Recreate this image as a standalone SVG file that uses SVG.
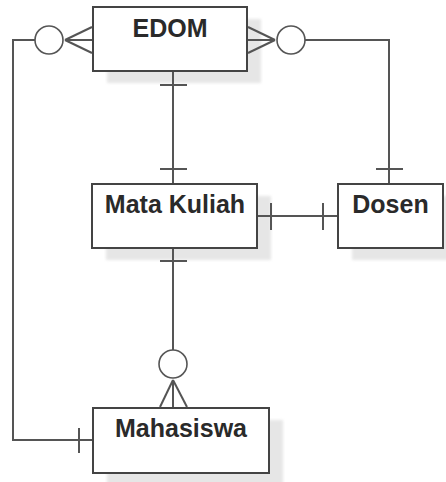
<svg xmlns="http://www.w3.org/2000/svg" width="446" height="482" viewBox="0 0 446 482">
<style>
.box{fill:#fff;stroke:#444;stroke-width:2}
.sh{fill:#e6e6e6;filter:url(#blur)}
.lbl{font-family:"Liberation Sans",Arial,sans-serif;font-weight:bold;font-size:25px;fill:#2a2a2a;text-anchor:middle}
.ln{fill:none;stroke:#555;stroke-width:2}
.circ{fill:#fff;stroke:#555;stroke-width:1.6}
</style>
<defs>
<filter id="blur" x="-10%" y="-10%" width="120%" height="120%"><feGaussianBlur stdDeviation="1.5"/></filter>
</defs>
<rect width="446" height="482" fill="#fff"/>
<g id="edom">
<rect class="sh" x="107" y="19" width="154" height="64"/>
<rect class="box" x="93" y="7" width="154" height="64"/>
<text class="lbl" x="170" y="37">EDOM</text>
</g>
<g id="mata-kuliah">
<rect class="sh" x="106" y="196" width="165" height="64"/>
<rect class="box" x="92" y="184" width="165" height="64"/>
<text class="lbl" x="175" y="213">Mata Kuliah</text>
</g>
<g id="dosen">
<rect class="sh" x="352" y="196" width="105" height="64"/>
<rect class="box" x="338" y="184" width="105" height="64"/>
<text class="lbl" x="390.5" y="213">Dosen</text>
</g>
<g id="mahasiswa">
<rect class="sh" x="107" y="420" width="176" height="65"/>
<rect class="box" x="93" y="408" width="176" height="65"/>
<text class="lbl" x="181" y="437">Mahasiswa</text>
</g>
<g id="connectors">
<!-- EDOM - Mahasiswa -->
<polyline class="ln" points="35,40 13,40 13,440 92,440"/>
<line class="ln" x1="79" y1="428" x2="79" y2="453"/>
<line class="ln" x1="65" y1="40" x2="92" y2="27"/>
<line class="ln" x1="65" y1="40" x2="92" y2="40"/>
<line class="ln" x1="65" y1="40" x2="92" y2="53"/>
<circle class="circ" cx="49" cy="40" r="14"/>
<!-- EDOM - Dosen -->
<polyline class="ln" points="305,40 389,40 389,183"/>
<line class="ln" x1="376" y1="169" x2="403" y2="169"/>
<line class="ln" x1="275" y1="40" x2="248" y2="27"/>
<line class="ln" x1="275" y1="40" x2="248" y2="40"/>
<line class="ln" x1="275" y1="40" x2="248" y2="53"/>
<circle class="circ" cx="291" cy="40" r="14"/>
<!-- EDOM - Mata Kuliah -->
<line class="ln" x1="173" y1="72" x2="173" y2="183"/>
<line class="ln" x1="160" y1="85" x2="187" y2="85"/>
<line class="ln" x1="160" y1="169" x2="187" y2="169"/>
<!-- Mata Kuliah - Dosen -->
<line class="ln" x1="258" y1="216" x2="337" y2="216"/>
<line class="ln" x1="271" y1="203" x2="271" y2="230"/>
<line class="ln" x1="323" y1="203" x2="323" y2="230"/>
<!-- Mata Kuliah - Mahasiswa -->
<line class="ln" x1="173" y1="249" x2="173" y2="350"/>
<line class="ln" x1="160" y1="261" x2="187" y2="261"/>
<line class="ln" x1="173" y1="380" x2="160" y2="407"/>
<line class="ln" x1="173" y1="380" x2="173" y2="407"/>
<line class="ln" x1="173" y1="380" x2="187" y2="407"/>
<circle class="circ" cx="173" cy="364" r="14"/>
</g>
</svg>
